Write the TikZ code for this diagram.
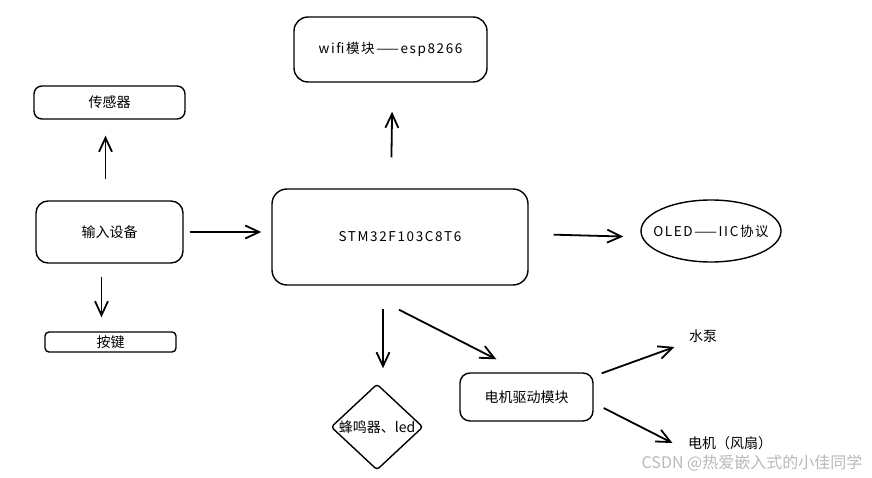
\documentclass[tikz,border=0pt]{standalone}
\usepackage{fontspec}
\setmainfont{Noto Sans CJK SC}
\newfontfamily\hand[LetterSpace=12]{Noto Sans CJK SC}
\usetikzlibrary{shapes.geometric,arrows.meta}
\tikzset{
  rbox/.style={draw, line width=1.4pt, rounded corners=#1, inner sep=0pt},
  rbox/.default=10pt,
  arr/.style={-{Straight Barb[length=14pt,width=13pt]}, line width=1.8pt},
  txt/.style={font=\fontsize{14}{16}\selectfont},
  htxt/.style={font=\fontsize{13.5}{15}\selectfont\hand}
}
\begin{document}
\begin{tikzpicture}[x=1pt,y=-1pt,every node/.style={txt}]
\fill[white] (0,0) rectangle (872,478);
\useasboundingbox (0,0) rectangle (872,478);

\node[rbox=8pt, minimum width=151, minimum height=33] (sen) at (109.5,102.5) {传感器};
\node[rbox=12pt, minimum width=147, minimum height=62] (in) at (109.5,232) {输入设备};
\node[rbox=4pt, minimum width=131, minimum height=20] (key) at (110.5,342) {按键};
\node[rbox=15pt, minimum width=256, minimum height=96, htxt] (stm) at (400,237) {STM32F103C8T6};
\node[rbox=14pt, minimum width=193, minimum height=65, htxt] (wifi) at (390.5,49.5) {wifi模块——esp8266};
\node[ellipse, draw, line width=1.4pt, minimum width=140, minimum height=62, inner sep=0pt, htxt] (oled) at (711,231) {\makebox[0pt]{OLED——IIC协议}};
\node[diamond, draw, line width=1.4pt, rounded corners=3pt, minimum width=92, minimum height=86, inner sep=0pt] (bz) at (377,427) {\makebox[0pt]{蜂鸣器、led}};
\node[rbox=10pt, minimum width=133, minimum height=48] (mot) at (526.5,397) {电机驱动模块};
\node (pump) at (703,336) {水泵};
\node (fan) at (730,443) {电机（风扇）};
\node[text=gray!55, font=\fontsize{16}{18}\selectfont] (wm) at (752,463) {CSDN @热爱嵌入式的小佳同学};

% arrows
\draw[arr, shorten <=6pt, shorten >=10pt] (in.east) -- (in.east -| stm.west);
\draw[arr, shorten <=21pt, shorten >=16pt] ([shift={(-4,0)}]in.north) -- ([shift={(-4,0)}]in.north |- sen.south);
\draw[arr, shorten <=13pt, shorten >=14pt] ([shift={(-8,0)}]in.south) -- ([shift={(-8,0)}]in.south |- key.north);
\draw[arr, shorten <=31pt, shorten >=29pt] ([shift={(-9,0)}]stm.north) -- ([shift={(2,0)}]wifi.south);
\draw[arr, shorten <=25pt, shorten >=17pt] ([shift={(0,-3)}]stm.east) -- (stm.east -| oled.west);
\draw[arr, shorten <=23pt, shorten >=15pt] ([shift={(-17,0)}]stm.south) -- ([shift={(6,0)}]bz.north);
\draw[arr] ([shift={(-1,24)}]stm.south) -- ([shift={(37,-13)}]mot.north west);
\draw[arr] ([shift={(8,1)}]mot.north east) -- ([shift={(-11,11)}]pump.west);
\draw[arr] ([shift={(10,11)}]mot.east) -- ([shift={(-12,0)}]fan.west);
\end{tikzpicture}
\end{document}
